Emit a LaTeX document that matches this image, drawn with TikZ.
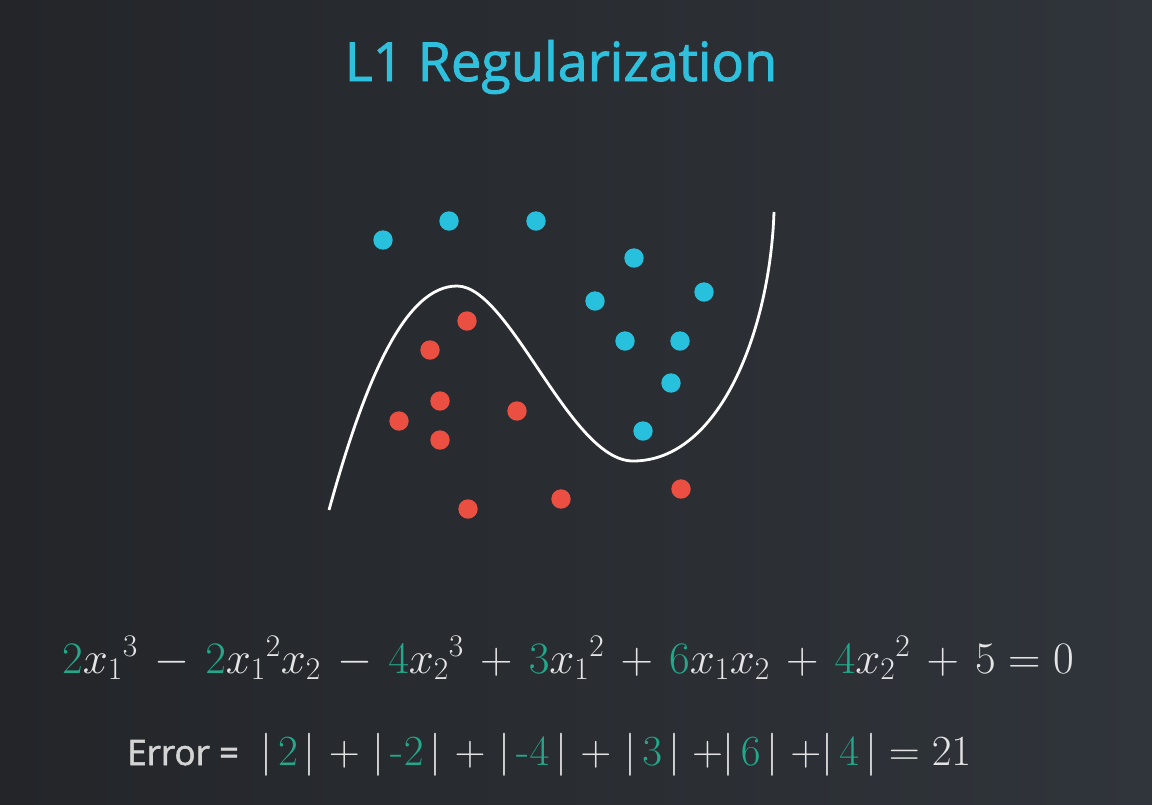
\RequirePackage{fix-cm}
\documentclass[tikz,border=0pt]{standalone}
\usepackage{fontspec}
\usepackage{xcolor}
\newfontfamily\osans[FakeBold=1.6]{Open Sans}
\newfontfamily\osansE[FakeBold=1.6]{Open Sans}
\definecolor{bgA}{HTML}{232529}
\definecolor{bgB}{HTML}{30353B}
\definecolor{titlec}{HTML}{2EC0DC}
\definecolor{bluedot}{HTML}{27C0DD}
\definecolor{reddot}{HTML}{EA4F42}
\definecolor{gc}{HTML}{22A88A}
\definecolor{txt}{HTML}{E4E4E4}
\definecolor{errc}{HTML}{D4D4D4}
\newcommand{\g}[1]{\textcolor{gc}{#1}}
\newcommand{\ab}[1]{|\mkern2.5mu#1\mkern2.5mu|}
\tikzset{
  bdot/.style={fill=bluedot},
  rdot/.style={fill=reddot},
  curve/.style={draw=white, line width=2.8pt},
}
\begin{document}
\begin{tikzpicture}[x=1pt,y=-1pt]
\useasboundingbox (0,0) rectangle (1152,804);
\shade[left color=bgA, right color=bgB] (0,0) rectangle (1152,804);
% title
\node[anchor=base, text=titlec, font=\osans\fontsize{54}{60}\selectfont, inner sep=0] (title) at (561,81) {L1 Regularization};
% blue points
\foreach \x/\y in {383/240, 449/221, 536/221, 634/258, 595/301, 704/292, 625/341, 680/341, 671/383, 643/431}
  \fill[bdot] (\x,\y) circle (9.7);
% red points
\foreach \x/\y in {467/321, 430/350, 440/401, 399/421, 440/440, 517/411, 468/509, 561/499, 681/489}
  \fill[rdot] (\x,\y) circle (9.7);
% curve
\draw[curve] (329,510) .. controls (365,380) and (405,286) .. (457,286)
  .. controls (510,286) and (570,461) .. (633,461)
  .. controls (720,461) and (770,330) .. (774,212);
% equation
\node[anchor=base west, text=txt, inner sep=0, font=\fontsize{45}{50}\selectfont] (eq) at (62,673)
 {$\medmuskip=6.5mu plus 2mu minus 4mu \thickmuskip=5mu plus 5mu
 \g{2}{x_1}^3 - \g{2}{x_1}^2x_2 - \g{4}{x_2}^3 + \g{3}{x_1}^2 + \g{6}x_1x_2 + \g{4}{x_2}^2 + 5 = 0$};
% error line
\node[anchor=base west, text=errc, inner sep=0, font=\osansE\fontsize{35}{40}\selectfont] (err) at (127,765) {Error =};
\node[anchor=base west, text=txt, inner sep=0, font=\fontsize{43}{50}\selectfont] (sum) at (260,765)
 {$\medmuskip=5.5mu plus 2mu minus 4mu
 \ab{\g{2}} + \ab{\g{\mbox{-}2}} + \ab{\g{\mbox{-}4}} + \ab{\g{3}}\;{+}\ab{\g{6}}\;{+}\ab{\g{4}} = 21$};
\end{tikzpicture}
\end{document}
